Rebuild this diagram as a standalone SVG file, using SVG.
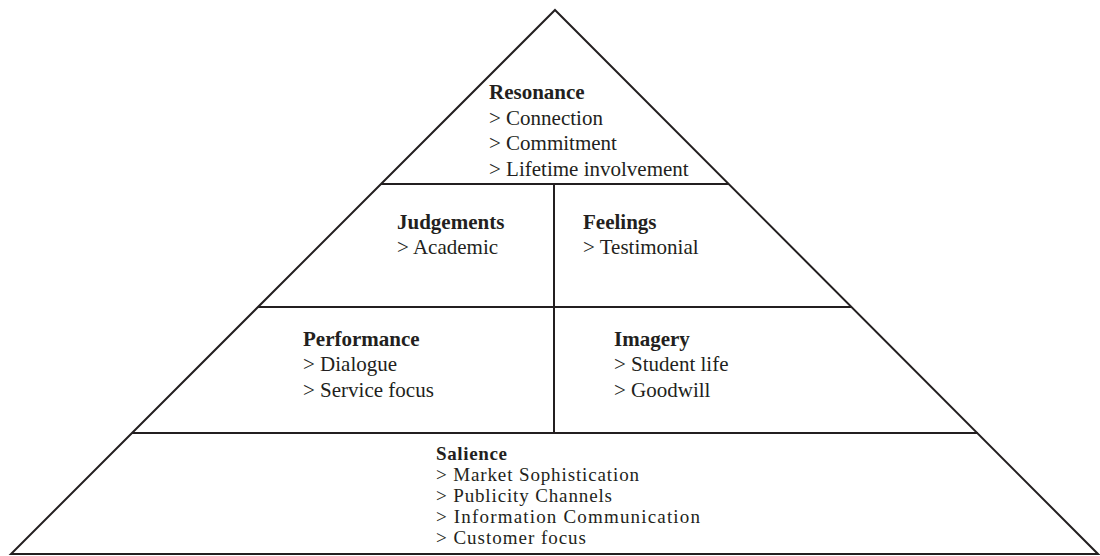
<svg xmlns="http://www.w3.org/2000/svg" width="1100" height="556" viewBox="0 0 1100 556">
<style>
.ln{stroke:#231f20;stroke-width:2;fill:none}
text{font-family:"Liberation Serif","Times New Roman",serif;font-size:21px;fill:#231f20}
.h{font-weight:bold}
.s{font-size:19px}
</style>
<rect width="1100" height="556" fill="#fff"/>
<g id="connectors">
<polygon class="ln" points="555,10 1098,554 11,554"/>
<line class="ln" x1="381" y1="184" x2="729" y2="184"/>
<line class="ln" x1="258" y1="307" x2="852" y2="307"/>
<line class="ln" x1="132" y1="433" x2="978" y2="433"/>
<line class="ln" x1="554" y1="184" x2="554" y2="433"/>
</g>
<g id="resonance">
<text x="489" y="99" class="h">Resonance</text>
<text x="489" y="124.5">&gt; Connection</text>
<text x="489" y="150">&gt; Commitment</text>
<text x="489" y="175.5">&gt; Lifetime involvement</text>
</g>
<g id="judgements">
<text x="397" y="229" class="h">Judgements</text>
<text x="397" y="254">&gt; Academic</text>
</g>
<g id="feelings">
<text x="583" y="229" class="h">Feelings</text>
<text x="583" y="254">&gt; Testimonial</text>
</g>
<g id="performance">
<text x="303" y="346" class="h">Performance</text>
<text x="303" y="371">&gt; Dialogue</text>
<text x="303" y="396.5">&gt; Service focus</text>
</g>
<g id="imagery">
<text x="614" y="346" class="h">Imagery</text>
<text x="614" y="371">&gt; Student life</text>
<text x="614" y="396.5">&gt; Goodwill</text>
</g>
<g id="salience">
<text x="436" y="460" class="h s" textLength="71">Salience</text>
<text x="436" y="481" class="s" textLength="203">&gt; Market Sophistication</text>
<text x="436" y="502" class="s" textLength="176">&gt; Publicity Channels</text>
<text x="436" y="523" class="s" textLength="264">&gt; Information Communication</text>
<text x="436" y="544" class="s" textLength="150">&gt; Customer focus</text>
</g>
</svg>
